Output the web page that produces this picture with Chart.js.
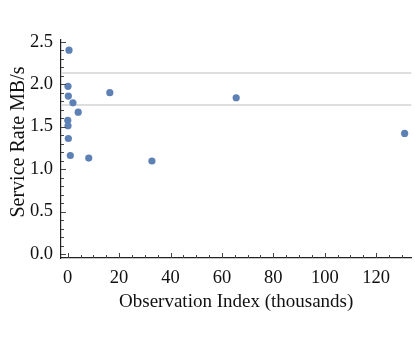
<!DOCTYPE html>
<html>
<head>
<meta charset="utf-8">
<script src="https://cdn.jsdelivr.net/npm/chart.js@4.4.1/dist/chart.umd.min.js"></script>
<style>
    html, body { margin: 0; padding: 0; background: #fff; }
    #wrap { width: 415px; height: 346px; }
</style>
</head>
<body>
<div id="wrap"><canvas id="rateChart" width="415" height="346"></canvas></div>
<script>
// Observations (thousands) and measured service rate
const obsIndex = [0.512, 0.128, 0.256, 2.048, 4.096, 0.032, 0.128, 0.256, 1.024, 8.192, 16.384, 32.768, 65.536, 131.072];
const serviceRate = [2.40, 1.975, 1.86, 1.78, 1.67, 1.575, 1.51, 1.36, 1.16, 1.13, 1.90, 1.095, 1.84, 1.42];

// Gray reference lines
const refLines = [2.134, 1.76];

// Axis ticks
const xTicks = [0, 20, 40, 60, 80, 100, 120];
const yTicks = [0, 0.5, 1.0, 1.5, 2.0, 2.5];
const xMinorStep = 5;
const yMinorStep = 0.1;

const xTitle = 'Observation Index (thousands)';
const yTitle = 'Service Rate MB/s';

const FONT = '"Liberation Serif", "Times New Roman", serif';

// Draw the gray horizontal reference lines
const refLinePlugin = {
    id: 'refLines',
    beforeDatasetsDraw(chart) {
        const { ctx, chartArea, scales } = chart;
        ctx.save();
        ctx.strokeStyle = '#dedede';
        ctx.lineWidth = 2;
        refLines.forEach(v => {
            const y = Math.round(scales.y.getPixelForValue(v));
            ctx.beginPath();
            ctx.moveTo(chartArea.left + 1, y);
            ctx.lineTo(chartArea.right, y);
            ctx.stroke();
        });
        ctx.restore();
    }
};

// Inward frame ticks + axis titles, Mathematica style
const frameExtrasPlugin = {
    id: 'frameExtras',
    afterDraw(chart) {
        const { ctx, chartArea, scales } = chart;
        ctx.save();
        ctx.strokeStyle = '#444';
        ctx.lineWidth = 1;

        // x ticks
        for (let v = 0; v <= scales.x.max; v += xMinorStep) {
            const major = xTicks.includes(v);
            const x = Math.round(scales.x.getPixelForValue(v)) + 0.5;
            const len = major ? 5 : 3;
            ctx.beginPath();
            ctx.moveTo(x, chartArea.bottom);
            ctx.lineTo(x, chartArea.bottom - len);
            ctx.stroke();
        }

        // y ticks
        for (let i = 0; i * yMinorStep <= scales.y.max + 1e-9; i++) {
            const v = i * yMinorStep;
            const major = i % 5 === 0;
            const y = Math.round(scales.y.getPixelForValue(v)) + 0.5;
            const len = major ? 5 : 3;
            ctx.beginPath();
            ctx.moveTo(chartArea.left, y);
            ctx.lineTo(chartArea.left + len, y);
            ctx.stroke();
        }

        // axis titles
        ctx.fillStyle = '#111';
        ctx.textAlign = 'center';
        ctx.textBaseline = 'middle';
        ctx.font = '19px ' + FONT;
        ctx.fillText(xTitle, (chartArea.left + chartArea.right) / 2, 302);

        ctx.translate(19, 142);
        ctx.rotate(-Math.PI / 2);
        ctx.font = '20px ' + FONT;
        ctx.fillText(yTitle, 0, 0);
        ctx.restore();
    }
};

function buildChart() {
    const ctx = document.getElementById('rateChart');
    const points = obsIndex.map((x, i) => ({ x: x, y: serviceRate[i] }));

    new Chart(ctx, {
        type: 'scatter',
        data: {
            datasets: [{
                data: points,
                backgroundColor: '#5e81b5',
                borderWidth: 0,
                pointRadius: 3.6,
                pointHoverRadius: 3.6
            }]
        },
        options: {
            responsive: false,
            animation: false,
            layout: { padding: { top: 40, right: 0, left: 0, bottom: 0 } },
            plugins: {
                legend: { display: false },
                tooltip: { enabled: false }
            },
            scales: {
                x: {
                    type: 'linear',
                    min: -2.6,
                    max: 133.7,
                    grid: { display: false, drawTicks: false },
                    border: { display: true, color: '#222', width: 1.2 },
                    afterBuildTicks: scale => { scale.ticks = xTicks.map(v => ({ value: v })); },
                    afterFit: scale => { scale.height = 88; },
                    ticks: {
                        padding: 9,
                        color: '#111',
                        maxRotation: 0,
                        font: { family: FONT, size: 18.5 }
                    }
                },
                y: {
                    type: 'linear',
                    min: -0.047,
                    max: 2.52,
                    grid: { display: false, drawTicks: false },
                    border: { display: true, color: '#222', width: 1.2 },
                    afterBuildTicks: scale => { scale.ticks = yTicks.map(v => ({ value: v })); },
                    afterFit: scale => { scale.width = 61; },
                    ticks: {
                        padding: 8,
                        color: '#111',
                        font: { family: FONT, size: 18.5 },
                        callback: v => v.toFixed(1)
                    }
                }
            }
        },
        plugins: [refLinePlugin, frameExtrasPlugin]
    });
}

buildChart();
</script>
</body>
</html>
